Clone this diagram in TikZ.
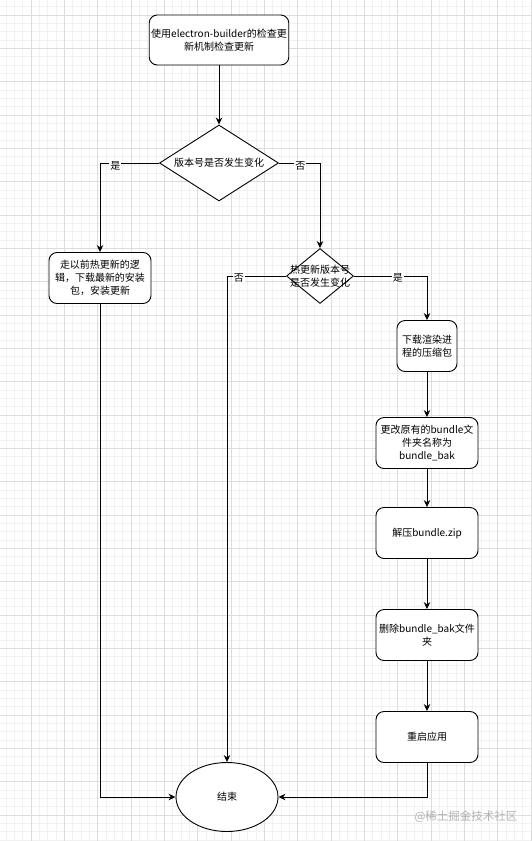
\documentclass[tikz,border=0pt]{standalone}
\usepackage{fontspec}
\setmainfont{Noto Sans CJK SC}
\usetikzlibrary{shapes.geometric,arrows.meta}

\definecolor{gridminor}{HTML}{F1F1F1}
\definecolor{gridmajor}{HTML}{DCDCDC}

\begin{document}
\begin{tikzpicture}[
    x=1pt, y=-1pt,
    every node/.style={font=\fontsize{10}{13.3}\selectfont, align=center},
    flow/.style={draw, line width=0.9pt, -{Stealth[length=7pt,width=6.5pt]}},
    proc/.style={draw, line width=0.9pt, rounded corners=8pt, fill=white,
      minimum width=102pt, minimum height=51pt, inner sep=2pt},
    decide/.style={draw, line width=0.9pt, diamond, fill=white, inner sep=0pt},
    lbl/.style={fill=white, inner sep=1pt},
  ]
  \useasboundingbox (0,0) rectangle (532,841);

  % background grid
  \foreach \i in {0,...,64}
    \draw[gridminor, line width=0.5pt] (-2.33+8.333*\i,0) -- (-2.33+8.333*\i,841);
  \foreach \j in {-1,...,101}
    \draw[gridminor, line width=0.5pt] (0,15+8.333*\j) -- (532,15+8.333*\j);
  \foreach \i in {0,...,16}
    \draw[gridmajor, line width=0.6pt] (-2.33+33.333*\i,0) -- (-2.33+33.333*\i,841);
  \foreach \j in {0,...,25}
    \draw[gridmajor, line width=0.6pt] (0,15+33.333*\j) -- (532,15+33.333*\j);

  % nodes
  \node[proc, minimum width=136pt, minimum height=50pt] (start) at (219,40)
    {使用electron-builder的检查更\\新机制检查更新};
  \node[decide, minimum width=119pt, minimum height=76pt,
    label={center:版本号是否发生变化}] (verchk) at (219,163) {};
  \node[proc] (oldway) at (100,278)
    {走以前热更新的逻\\辑，下载最新的安装\\包，安装更新};
  \node[decide, minimum width=67pt, minimum height=55pt,
    label={[align=center]center:热更新版本号\\是否发生变化}] (hotchk) at (320,276) {};
  \node[proc, minimum width=60pt] (fetch) at (427,346) {下载渲染进\\程的压缩包};
  \node[proc] (rename) at (427,443) {更改原有的bundle文\\件夹名称为\\bundle\_bak};
  \node[proc] (unzip) at (427,533) {解压bundle.zip};
  \node[proc] (delbak) at (427,635) {删除bundle\_bak文件\\夹};
  \node[proc] (restart) at (427,737) {重启应用};
  \node[draw, line width=0.9pt, ellipse, fill=white, minimum width=102pt,
    minimum height=69pt] (finish) at (227,797) {结束};

  % connectors
  \draw[flow] (start) -- (verchk);
  \draw[flow] (verchk.west) -| node[lbl, pos=0.37, yshift=-3pt] (yesA) {是} (oldway.north);
  \draw[flow] (verchk.east) -| node[lbl, pos=0.26, yshift=-3pt] (noA) {否} (hotchk.north);
  \draw[flow] (hotchk.west) -| node[lbl, pos=0.4, yshift=-2pt] (noB) {否} (finish.north);
  \draw[flow] (hotchk.east) -| node[lbl, pos=0.3, yshift=-2pt] (yesB) {是} (fetch.north);
  \draw[flow] (fetch) -- (rename);
  \draw[flow] (rename) -- (unzip);
  \draw[flow] (unzip) -- (delbak);
  \draw[flow] (delbak) -- (restart);
  \draw[flow] (oldway.south) |- (finish.west);
  \draw[flow] (restart.south) |- (finish.east);

  % watermark
  \node[text=black!30, font=\fontsize{11.5}{13}\selectfont] (mark) at (466,817)
    {@稀土掘金技术社区};
\end{tikzpicture}
\end{document}
